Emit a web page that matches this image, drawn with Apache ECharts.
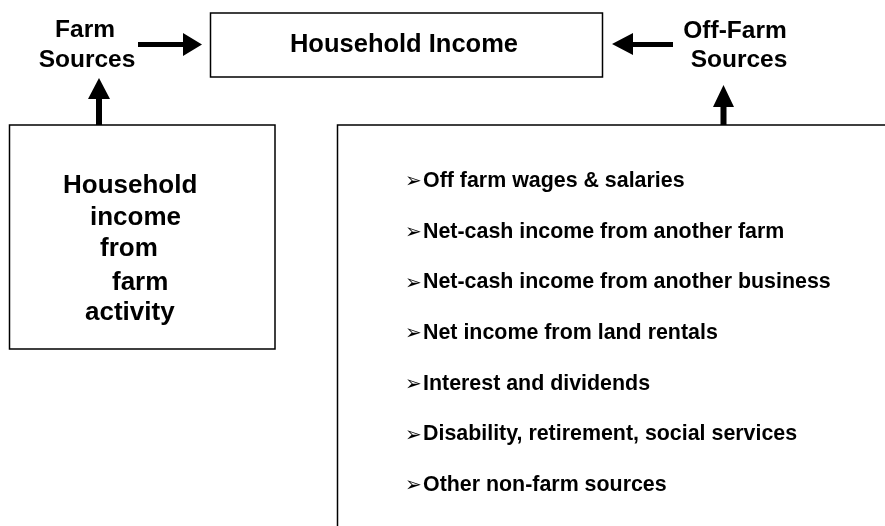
<!DOCTYPE html>
<html><head><meta charset="utf-8">
<script src="https://cdn.jsdelivr.net/npm/echarts@6/dist/echarts.min.js"></script>
<style>html,body{margin:0;padding:0;background:#fff}#c{width:885px;height:526px}</style>
</head><body><div id="c"></div>
<script>
// ---- content ----
const centerTitle = 'Household Income';
const farmLabel = ['Farm', 'Sources'];
const offFarmLabel = ['Off-Farm', 'Sources'];
const farmBoxLines = ['Household', 'income', 'from', 'farm', 'activity'];
const offFarmItems = [
  'Off farm wages & salaries',
  'Net-cash income from another farm',
  'Net-cash income from another business',
  'Net income from land rentals',
  'Interest and dividends',
  'Disability, retirement, social services',
  'Other non-farm sources'
];
const bulletGlyph = '\u27A2';

// ---- layout ----
const FF = '"Liberation Sans", Arial, sans-serif';
const chart = echarts.init(document.getElementById('c'), null, {renderer: 'canvas'});
const g = [];
function txt(x, y, s, size, align) {
  g.push({type: 'text', x: x, y: y, z: 10,
    style: {text: s, fill: '#000', font: 'bold ' + size + 'px ' + FF,
      textAlign: align || 'center', textVerticalAlign: 'middle', verticalAlign: 'middle'}});
}
function rect(x, y, w, h) {
  g.push({type: 'rect', shape: {x: x, y: y, width: w, height: h},
    style: {fill: '#fff', stroke: '#000', lineWidth: 1.5}});
}
function poly(pts) {
  g.push({type: 'polygon', z: 5, shape: {points: pts}, style: {fill: '#000'}});
}
// boxes
rect(210.5, 13, 392, 64);
rect(9.5, 125, 265.5, 224);
rect(337.5, 125, 700, 600);
// arrows
poly([[138, 42], [183, 42], [183, 33], [202, 44.5], [183, 56], [183, 47], [138, 47]]);      // farm -> income
poly([[96, 125], [96, 99], [88, 99], [99, 78], [110, 99], [102, 99], [102, 125]]);         // box -> farm
poly([[673, 42], [633, 42], [633, 33], [612, 44], [633, 55], [633, 47], [673, 47]]);      // off-farm -> income
poly([[720.5, 125], [720.5, 107], [713, 107], [723.5, 85], [734, 107], [726.5, 107], [726.5, 125]]); // box -> off-farm
// texts
txt(404, 45, centerTitle, 25.5);
txt(85, 30, farmLabel[0], 24.5);
txt(87, 60, farmLabel[1], 24.5);
txt(735, 31, offFarmLabel[0], 24.5);
txt(739, 60, offFarmLabel[1], 24.5);
const boxX = [63, 90, 100, 112, 85];
const boxY = [186, 218, 249, 283, 313];
farmBoxLines.forEach((s, i) => txt(boxX[i], boxY[i], s, 26, 'left'));
offFarmItems.forEach((s, i) => {
  const y = 181 + i * 50.7;
  g.push({type: 'text', x: 405, y: y + 1, z: 10,
    style: {text: bulletGlyph, fill: '#000', font: '20px "DejaVu Sans", sans-serif',
      textAlign: 'left', textVerticalAlign: 'middle', verticalAlign: 'middle'}});
  txt(423, y, s, 21.4, 'left');
});

chart.setOption({animation: false, backgroundColor: '#fff', graphic: g});
</script></body></html>
